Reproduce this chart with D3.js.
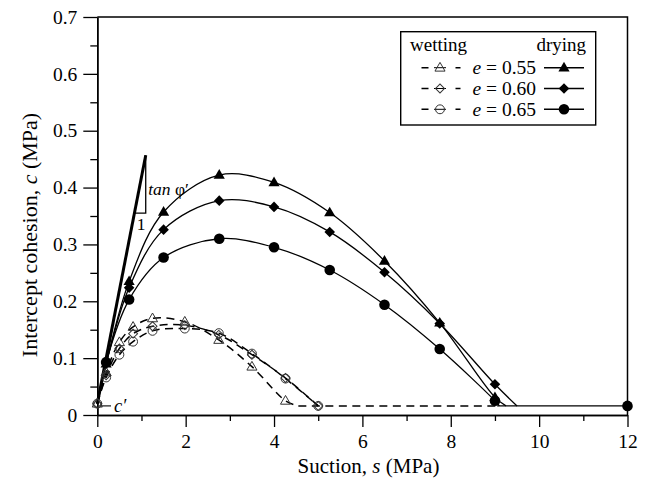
<!DOCTYPE html>
<html>
<head>
<meta charset="utf-8">
<script src="https://cdn.jsdelivr.net/npm/d3@7"></script>
<style>
  body { margin: 0; background: #fff; }
  svg { display: block; }
  text { font-family: "Liberation Serif", "Times New Roman", serif; fill: #000; }
</style>
</head>
<body>
<svg id="chart" width="648" height="482"></svg>
<script>
// Void ratios of the three specimen groups
const voidRatios = ["0.55", "0.60", "0.65"];

// Drying path: suction (MPa) and intercept cohesion (MPa)
const drySuction = [0, 0.2, 0.72, 1.5, 2.76, 4.0, 5.26, 6.5, 7.75, 9.0];
const dryC055 = [0.02, 0.09, 0.235, 0.357, 0.422, 0.409, 0.356, 0.271, 0.162, 0.031];
const dryC060 = [0.02, 0.09, 0.224, 0.326, 0.377, 0.366, 0.322, 0.251, 0.161, 0.054];
const dryC065 = [0.02, 0.093, 0.203, 0.277, 0.310, 0.295, 0.255, 0.194, 0.116, 0.025];
const dryZeroSuction = [9.25, 9.5, 9.1];   // where each fitted drying curve meets the residual level

// Wetting path
const wetSuction = [0, 0.2, 0.5, 0.81, 1.25, 1.98, 2.75, 3.5, 4.26, 5.0];
const wetC055 = [0.02, 0.075, 0.128, 0.155, 0.170, 0.164, 0.132, 0.085, 0.025, null];
const wetC060 = [0.02, 0.070, 0.117, 0.143, 0.156, 0.158, 0.141, 0.106, 0.065, 0.016];
const wetC065 = [0.02, 0.066, 0.106, 0.129, 0.148, 0.152, 0.144, 0.108, 0.064, 0.016];
const wetZeroSuction = [4.55, 5.0, 5.0];

// Residual cohesion at high suction and the effective cohesion c'
const residualC = 0.016;
const highSuctionPoint = [12, 0.016];
const dashedResidualRange = [4.55, 9.05];
const solidResidualRange = [9.05, 12];
const cPrime = 0.02;

// tan φ' slope line and its unit triangle (suction, cohesion)
const slopeLine = [[0, 0.02], [1.096, 0.457]];
const slopeTriangleBottom = 0.355;

// Axis ticks
const xMajor = [0, 2, 4, 6, 8, 10, 12];
const xMinor = [1, 3, 5, 7, 9, 11];
const yMajor = [0, 0.1, 0.2, 0.3, 0.4, 0.5, 0.6, 0.7];
const yMinor = [0.05, 0.15, 0.25, 0.35, 0.45, 0.55, 0.65];

const svg = d3.select("#chart");
const plotLeft = 97.3, plotRight = 627.5, plotTop = 17, plotBottom = 415;

const x = d3.scaleLinear().domain([0, 12]).range([plotLeft, plotRight]);
const y = d3.scaleLinear().domain([0, 0.7]).range([plotBottom, plotTop]);

const dryC = [dryC055, dryC060, dryC065];
const wetC = [wetC055, wetC060, wetC065];
const shapes = ["triangle", "diamond", "circle"];
const wetDash = "8,5.5";

function markerPath(shape, size) {
  if (shape === "triangle") return d3.symbol(d3.symbolTriangle, size)();
  if (shape === "diamond") return d3.symbol(d3.symbolSquare, size)();
  return d3.symbol(d3.symbolCircle, size)();
}
function drawMarker(g, shape, cx, cy, filled) {
  const size = filled
    ? (shape === "circle" ? 88 : shape === "triangle" ? 54 : 56)
    : (shape === "circle" ? 62 : shape === "triangle" ? 44 : 40);
  const p = g.append("path")
    .attr("d", markerPath(shape, size))
    .attr("transform", `translate(${cx},${cy})` + (shape === "diamond" ? " rotate(45)" : "") +
      (shape === "triangle" ? " translate(0,0.5)" : ""));
  if (filled) p.attr("fill", "#000").attr("stroke", "none");
  else p.attr("fill", "none").attr("stroke", "#333").attr("stroke-width", 1);
}

const curve = d3.line().x(d => x(d[0])).y(d => y(d[1])).curve(d3.curveCatmullRom.alpha(0.5));
const straight = d3.line().x(d => x(d[0])).y(d => y(d[1]));

// ---- axes ----
const yAxis = d3.axisLeft(y).tickValues(yMajor).tickSize(14).tickSizeOuter(0).tickPadding(6)
  .tickFormat(d => d === 0 ? "0" : d3.format(".1f")(d));
const gy = svg.append("g").attr("transform", `translate(${plotLeft},0)`).call(yAxis);
gy.selectAll("text").style("font-size", "19.5px");
svg.append("g").attr("transform", `translate(${plotLeft},0)`)
  .call(d3.axisLeft(y).tickValues(yMinor).tickSize(7).tickSizeOuter(0).tickFormat(""));

const xAxis = d3.axisBottom(x).tickValues(xMajor).tickSize(12).tickSizeOuter(0).tickPadding(7)
  .tickFormat(d3.format("d"));
const gx = svg.append("g").attr("transform", `translate(0,${plotBottom})`).call(xAxis);
gx.selectAll("text").style("font-size", "19.5px");
svg.append("g").attr("transform", `translate(0,${plotBottom})`)
  .call(d3.axisBottom(x).tickValues(xMinor).tickSize(6).tickSizeOuter(0).tickFormat(""));

svg.selectAll(".domain").attr("stroke", "#000").attr("stroke-width", 1.5);
svg.selectAll(".tick line").attr("stroke", "#000").attr("stroke-width", 1.3);

// frame top and right
svg.append("path")
  .attr("d", `M${plotLeft},${plotTop}H${plotRight}V${plotBottom}`)
  .attr("fill", "none").attr("stroke", "#000").attr("stroke-width", 1.5);

// axis titles
svg.append("text")
  .attr("x", 368.5).attr("y", 473)
  .attr("text-anchor", "middle").style("font-size", "21px")
  .html('Suction, <tspan font-style="italic">s</tspan> (MPa)');
svg.append("text")
  .attr("transform", "translate(37,235) rotate(-90)")
  .attr("text-anchor", "middle").style("font-size", "22px")
  .html('Intercept cohesion, <tspan font-style="italic">c</tspan> (MPa)');

// ---- residual level ----
svg.append("path")
  .attr("d", straight(dashedResidualRange.map(s => [s, residualC])))
  .attr("fill", "none").attr("stroke", "#000").attr("stroke-width", 1.5)
  .attr("stroke-dasharray", wetDash);
svg.append("path")
  .attr("d", straight(solidResidualRange.map(s => [s, residualC])))
  .attr("fill", "none").attr("stroke", "#000").attr("stroke-width", 1.3);

// ---- wetting curves (dashed) ----
wetC.forEach((cs, i) => {
  const pts = wetSuction.map((s, j) => [s, cs[j]]).filter(d => d[1] !== null);
  if (pts[pts.length - 1][0] < wetZeroSuction[i]) pts.push([wetZeroSuction[i], residualC]);
  svg.append("path").attr("d", curve(pts))
    .attr("fill", "none").attr("stroke", "#000").attr("stroke-width", 1.5)
    .attr("stroke-dasharray", wetDash);
});

// ---- drying curves (solid) ----
dryC.forEach((cs, i) => {
  const pts = drySuction.map((s, j) => [s, cs[j]]);
  pts.push([dryZeroSuction[i], residualC]);
  svg.append("path").attr("d", curve(pts))
    .attr("fill", "none").attr("stroke", "#000").attr("stroke-width", 1.3);
});

// ---- tan φ' slope ----
svg.append("path").attr("d", straight(slopeLine))
  .attr("fill", "none").attr("stroke", "#000").attr("stroke-width", 3);
{
  const sTop = slopeLine[1][0], cTop = slopeLine[1][1];
  const c0 = slopeLine[0][1];
  const sBottom = (slopeTriangleBottom - c0) / (cTop - c0) * sTop;
  svg.append("path")
    .attr("d", straight([[sTop, cTop], [sTop, slopeTriangleBottom], [sBottom, slopeTriangleBottom]]))
    .attr("fill", "none").attr("stroke", "#000").attr("stroke-width", 1.3);
  svg.append("text").attr("x", x(sTop) + 2.5).attr("y", y(cTop) + 40)
    .style("font-size", "17.5px")
    .html('<tspan font-style="italic">tan</tspan> φ′');
  svg.append("text").attr("x", x((sTop + sBottom) / 2) + 1).attr("y", y(slopeTriangleBottom) + 17)
    .attr("text-anchor", "middle").style("font-size", "17.5px").text("1");
}

// ---- c' label ----
svg.append("path")
  .attr("d", straight([[0.06, cPrime - 0.004], [0.31, cPrime - 0.004]]))
  .attr("stroke", "#000").attr("stroke-width", 1.1);
svg.append("text").attr("x", x(0.38)).attr("y", y(cPrime) + 8)
  .style("font-size", "18.5px").attr("font-style", "italic").text("c′");

// ---- markers ----
const mg = svg.append("g");
wetC.forEach((cs, i) => {
  wetSuction.forEach((s, j) => {
    if (cs[j] === null) return;
    drawMarker(mg, shapes[i], x(s), y(cs[j]), false);
  });
});
dryC.forEach((cs, i) => {
  drySuction.forEach((s, j) => {
    if (j === 0) return;
    drawMarker(mg, shapes[i], x(s), y(cs[j]), true);
  });
});
drawMarker(mg, "circle", x(highSuctionPoint[0]), y(highSuctionPoint[1]), true);

// ---- legend ----
const lg = svg.append("g");
lg.append("rect").attr("x", 400.7).attr("y", 31.7).attr("width", 195).attr("height", 93.3)
  .attr("fill", "#fff").attr("stroke", "#000").attr("stroke-width", 1.4);
lg.append("text").attr("x", 410).attr("y", 51).style("font-size", "19px").text("wetting");
lg.append("text").attr("x", 586).attr("y", 51).attr("text-anchor", "end")
  .style("font-size", "19px").text("drying");
voidRatios.forEach((v, i) => {
  const cy = 67.7 + i * 20.8;
  lg.append("path").attr("d", `M421.5,${cy}H428.5M455.5,${cy}H460.5`)
    .attr("stroke", "#000").attr("stroke-width", 1.4);
  lg.append("path").attr("d", `M434,${cy}H446`).attr("stroke", "#000").attr("stroke-width", 1);
  drawMarker(lg, shapes[i], 440, cy, false);
  lg.append("text").attr("x", 472.5).attr("y", cy + 6.5).style("font-size", "19.5px")
    .html(`<tspan font-style="italic">e</tspan> = ${v}`);
  lg.append("path").attr("d", `M544,${cy}H584`).attr("stroke", "#000").attr("stroke-width", 1.4);
  drawMarker(lg, shapes[i], 564, cy, true);
});
</script>
</body>
</html>
